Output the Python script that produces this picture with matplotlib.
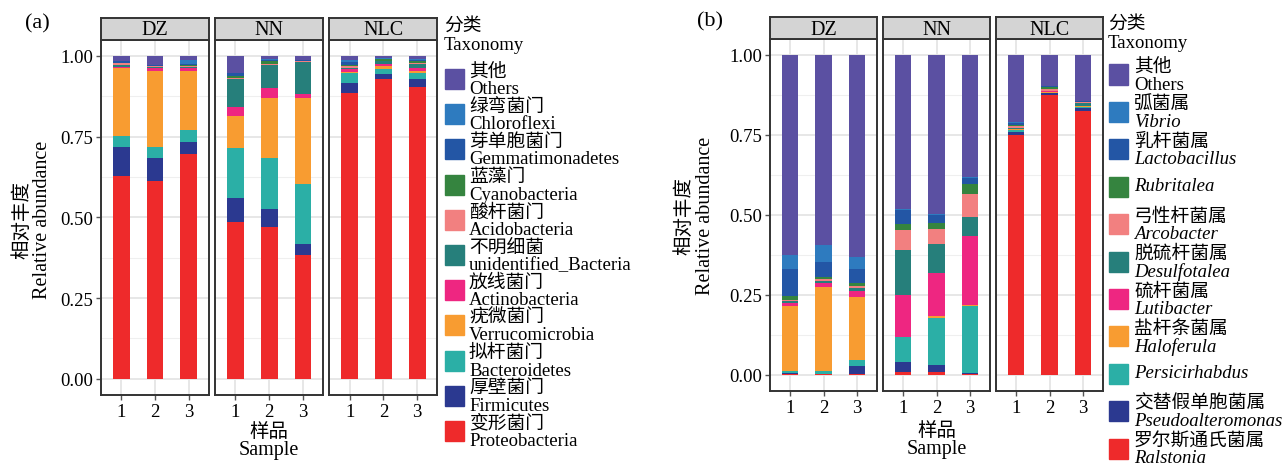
import numpy as np
import matplotlib.pyplot as plt
from matplotlib.patches import Rectangle

plt.rcParams['font.family'] = ['Liberation Serif', 'Noto Sans CJK SC']
plt.rcParams['axes.unicode_minus'] = False

W, H = 1286, 464

sites = ['DZ', 'NN', 'NLC']
samples = [1, 2, 3]

# colours shared by both panels, bottom of the stack first
colors = ['#EE2A2B', '#2B3990', '#2BAFA6', '#F89C31', '#EE2681', '#267F7B',
          '#F28080', '#35843F', '#2356A5', '#2E7BBF', '#5B50A2']

# ---- (a) phylum level; each list is DZ1-3, NN1-3, NLC1-3
phyla_cn = ['变形菌门', '厚壁菌门', '拟杆菌门', '疣微菌门', '放线菌门', '不明细菌',
            '酸杆菌门', '蓝藻门', '芽单胞菌门', '绿弯菌门', '其他']
phyla_en = ['Proteobacteria', 'Firmicutes', 'Bacteroidetes', 'Verrucomicrobia',
            'Actinobacteria', 'unidentified_Bacteria', 'Acidobacteria',
            'Cyanobacteria', 'Gemmatimonadetes', 'Chloroflexi', 'Others']
proteobacteria = [0.628, 0.613, 0.697, 0.486, 0.471, 0.384, 0.885, 0.928, 0.903]
firmicutes = [0.090, 0.071, 0.037, 0.074, 0.055, 0.034, 0.031, 0.016, 0.025]
bacteroidetes = [0.034, 0.034, 0.037, 0.155, 0.158, 0.186, 0.031, 0.016, 0.019]
verrucomicrobia = [0.212, 0.236, 0.183, 0.099, 0.187, 0.267, 0.002, 0.010, 0.006]
actinobacteria = [0.003, 0.010, 0.009, 0.028, 0.030, 0.011, 0.010, 0.005, 0.011]
unidentified = [0.004, 0.002, 0.003, 0.087, 0.071, 0.100, 0.004, 0.008, 0.010]
acidobacteria = [0.006, 0.003, 0.003, 0.004, 0.004, 0.003, 0.005, 0.002, 0.003]
cyanobacteria = [0.002, 0.001, 0.004, 0.006, 0.008, 0.000, 0.004, 0.005, 0.007]
gemmatimonadetes = [0.004, 0.002, 0.003, 0.008, 0.003, 0.002, 0.010, 0.002, 0.004]
chloroflexi = [0.002, 0.001, 0.010, 0.000, 0.002, 0.001, 0.004, 0.001, 0.003]
others_a = [0.015, 0.027, 0.014, 0.053, 0.011, 0.012, 0.014, 0.007, 0.009]
phyla_vals = [proteobacteria, firmicutes, bacteroidetes, verrucomicrobia,
              actinobacteria, unidentified, acidobacteria, cyanobacteria,
              gemmatimonadetes, chloroflexi, others_a]

# ---- (b) genus level
genera_cn = ['罗尔斯通氏菌属', '交替假单胞菌属', '', '盐杆条菌属', '硫杆菌属',
             '脱硫杆菌属', '弓性杆菌属', '', '乳杆菌属', '弧菌属', '其他']
genera_en = ['Ralstonia', 'Pseudoalteromonas', 'Persicirhabdus', 'Haloferula',
             'Lutibacter', 'Desulfotalea', 'Arcobacter', 'Rubritalea',
             'Lactobacillus', 'Vibrio', 'Others']
ralstonia = [0.004, 0.002, 0.004, 0.009, 0.009, 0.003, 0.751, 0.875, 0.825]
pseudoalteromonas = [0.001, 0.002, 0.024, 0.032, 0.022, 0.004, 0.009, 0.005, 0.010]
persicirhabdus = [0.008, 0.009, 0.019, 0.079, 0.148, 0.209, 0.006, 0.002, 0.002]
haloferula = [0.203, 0.262, 0.197, 0.000, 0.006, 0.004, 0.004, 0.003, 0.004]
lutibacter = [0.009, 0.013, 0.019, 0.130, 0.135, 0.214, 0.000, 0.001, 0.001]
desulfotalea = [0.005, 0.006, 0.009, 0.141, 0.089, 0.060, 0.002, 0.002, 0.009]
arcobacter = [0.005, 0.006, 0.006, 0.062, 0.047, 0.072, 0.005, 0.005, 0.003]
rubritalea = [0.012, 0.006, 0.010, 0.019, 0.019, 0.031, 0.005, 0.006, 0.000]
lactobacillus = [0.084, 0.047, 0.043, 0.045, 0.026, 0.020, 0.005, 0.004, 0.001]
vibrio = [0.044, 0.053, 0.038, 0.002, 0.003, 0.002, 0.003, 0.001, 0.000]
others_b = [0.625, 0.594, 0.631, 0.481, 0.496, 0.381, 0.210, 0.096, 0.145]
genus_vals = [ralstonia, pseudoalteromonas, persicirhabdus, haloferula,
              lutibacter, desulfotalea, arcobacter, rubritalea,
              lactobacillus, vibrio, others_b]

fig = plt.figure(figsize=(W / 100, H / 100), dpi=100)


def fbox(x0, y0, x1, y1):
    # pixel box (top-left origin) -> figure fraction rect
    return [x0 / W, 1 - y1 / H, (x1 - x0) / W, (y1 - y0) / H]


def ftext(x, y, s, **kw):
    fig.text(x / W, 1 - y / H, s, **kw)


def draw_panel(vals, lefts, width, top, bottom, strip_top):
    axes = []
    for j, site in enumerate(sites):
        x0 = lefts[j]
        ax = fig.add_axes(fbox(x0, top, x0 + width, bottom))
        cum = np.zeros(3)
        for k, series in enumerate(vals):
            v = np.array(series[3 * j:3 * j + 3])
            ax.bar(samples, v, bottom=cum, width=0.5, color=colors[k],
                   linewidth=0, zorder=3)
            cum += v
        ax.set_xlim(0.4, 3.6)
        ax.set_ylim(-0.05, 1.05)
        ax.set_xticks(samples)
        ax.set_yticks([0, 0.25, 0.5, 0.75, 1.0])
        ax.set_yticks([0.125, 0.375, 0.625, 0.875], minor=True)
        ax.set_yticklabels(['0.00', '0.25', '0.50', '0.75', '1.00'])
        ax.grid(True, which='major', color='#E5E5E5', lw=1.3, zorder=0)
        ax.grid(True, which='minor', axis='y', color='#EFEFEF', lw=0.8, zorder=0)
        ax.set_axisbelow(True)
        ax.tick_params(which='major', length=3.5, width=1, color='#555555',
                       labelsize=13.5, pad=2)
        ax.tick_params(which='minor', length=0)
        if j > 0:
            ax.tick_params(axis='y', labelleft=False, length=0)
        for sp in ax.spines.values():
            sp.set_color('#333333')
            sp.set_linewidth(1.4)
        # facet strip
        sx = fig.add_axes(fbox(x0, strip_top, x0 + width, top))
        sx.set_facecolor('#D4D4D4')
        sx.set_xticks([])
        sx.set_yticks([])
        for sp in sx.spines.values():
            sp.set_color('#333333')
            sp.set_linewidth(1.4)
        sx.text(0.5, 0.45, site, ha='center', va='center', fontsize=14.5,
                transform=sx.transAxes)
        axes.append(ax)
    return axes


def draw_legend(x, key_y0, step, cn, en, italic, title_y):
    ftext(x - 1, title_y, '分类', fontsize=13.5, va='center')
    ftext(x - 1, title_y + 19, 'Taxonomy', fontsize=13.5, va='center')
    n = len(cn)
    for i in range(n):
        k = n - 1 - i
        cy = key_y0 + step * i
        fig.add_artist(Rectangle((x / W, 1 - (cy + 10) / H), 19 / W, 20 / H,
                                 transform=fig.transFigure, color=colors[k]))
        style = 'italic' if (italic and en[k] != 'Others') else 'normal'
        tx = x + 25 if italic else x + 24
        if cn[k]:
            ftext(tx, cy - 8, cn[k], fontsize=13.5, va='center')
            ftext(tx, cy + 9.5, en[k], fontsize=13.5, va='center',
                  fontstyle=style)
        else:
            ftext(tx, cy - 1, en[k], fontsize=13.5, va='center',
                  fontstyle=style)


# panel (a)
draw_panel(phyla_vals, [101, 215.2, 329.4], 108, 40.8, 396, 19)
ftext(25, 24, '(a)', fontsize=16, va='center')
ftext(22, 220, '相对丰度', fontsize=14, rotation=90, va='center', ha='center')
ftext(43, 220, 'Relative abundance', fontsize=14.5, rotation=90,
      va='center', ha='center')
ftext(269, 432, '样品', fontsize=14, ha='center', va='center')
ftext(269, 451, 'Sample', fontsize=14.5, ha='center', va='center')
draw_legend(445, 80, 35.2, phyla_cn, phyla_en, False, 26)

# panel (b)
draw_panel(genus_vals, [770, 883, 996], 107, 40, 392, 18)
ftext(697, 22, '(b)', fontsize=16, va='center')
ftext(684, 216, '相对丰度', fontsize=14, rotation=90, va='center', ha='center')
ftext(705, 216, 'Relative abundance', fontsize=14.5, rotation=90,
      va='center', ha='center')
ftext(937, 431, '样品', fontsize=14, ha='center', va='center')
ftext(937, 450, 'Sample', fontsize=14.5, ha='center', va='center')
draw_legend(1109, 75.5, 37.4, genera_cn, genera_en, True, 24)

fig.savefig('out.png', dpi=100)
